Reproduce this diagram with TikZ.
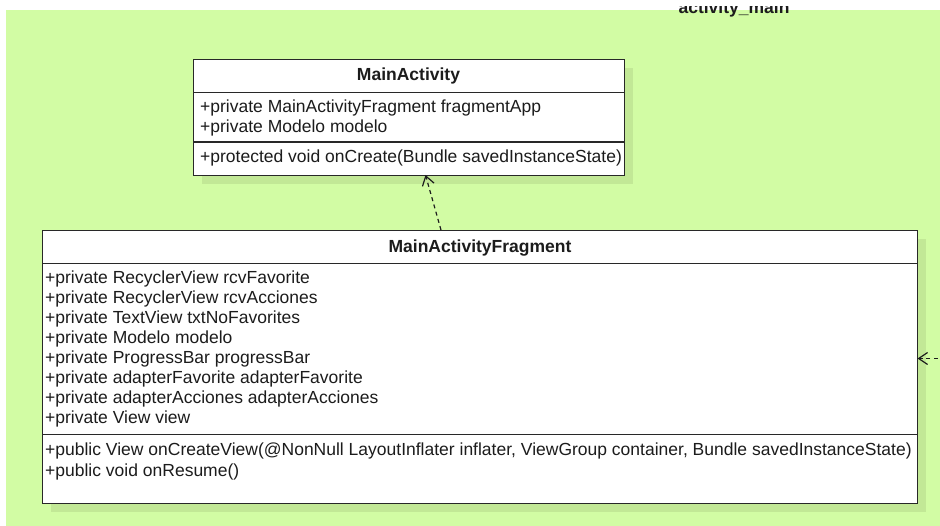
\documentclass[tikz,border=0pt]{standalone}
\usepackage{fontspec}
\setmainfont{Liberation Sans}
\usetikzlibrary{arrows.meta,shadows}

\definecolor{canvasgreen}{RGB}{210,252,164}
\definecolor{shadowgreen}{RGB}{194,232,150}
\definecolor{ink}{RGB}{28,28,28}
\definecolor{edge}{RGB}{40,40,40}

\tikzset{
  classbox/.style={draw=edge, line width=1.4pt, fill=white, inner sep=0pt,
    anchor=north west,
    drop shadow={shadow xshift=8pt, shadow yshift=-8pt, fill=shadowgreen, opacity=1}},
  divider/.style={draw=edge, line width=1.4pt},
  member/.style={anchor=base west, inner sep=0pt, text=ink,
    font=\fontsize{17.5}{20}\selectfont},
  classname/.style={anchor=base, inner sep=0pt, text=ink,
    font=\fontsize{17.5}{20}\selectfont\bfseries},
  dep/.style={draw=ink, line width=1.2pt, dash pattern=on 4pt off 3.5pt,
    -{Straight Barb[length=9pt,width=12pt,line width=1.2pt]}}
}

\begin{document}
\begin{tikzpicture}[x=1pt,y=-1pt]
  \useasboundingbox (0,0) rectangle (940,526);
  % canvas
  \fill[canvasgreen] (6,10) rectangle (940,526);
  \node[classname, anchor=base] (title) at (734,14) {activity\_main};
  % upper edge of the view hides the top of the container label
  \fill[white] (0,0) rectangle (940,5.7);

  % ---- MainActivity ----
  \node[classbox, minimum width=431pt, minimum height=116pt] (ma) at (193,59) {};
  \draw[divider] (193,92.5) -- (624,92.5);
  \draw[divider] (193,142) -- (624,142);
  \node[classname] (maname) at (408.5,81) {MainActivity};
  \node[member] (maa1) at (200,113) {+private MainActivityFragment fragmentApp};
  \node[member] (maa2) at (200,133) {+private Modelo modelo};
  \node[member] (mam1) at (200,163) {+protected void onCreate(Bundle savedInstanceState)};

  % ---- MainActivityFragment ----
  \node[classbox, minimum width=875pt, minimum height=273pt] (frag) at (42,230) {};
  \draw[divider] (42,263.5) -- (917,263.5);
  \draw[divider] (42,434.5) -- (917,434.5);
  \node[classname] (fragname) at (480,253) {MainActivityFragment};
  \node[member] (fa1) at (45,284) {+private RecyclerView rcvFavorite};
  \node[member] (fa2) at (45,304) {+private RecyclerView rcvAcciones};
  \node[member] (fa3) at (45,324) {+private TextView txtNoFavorites};
  \node[member] (fa4) at (45,344) {+private Modelo modelo};
  \node[member] (fa5) at (45,364) {+private ProgressBar progressBar};
  \node[member] (fa6) at (45,384) {+private adapterFavorite adapterFavorite};
  \node[member] (fa7) at (45,404) {+private adapterAcciones adapterAcciones};
  \node[member] (fa8) at (45,424) {+private View view};
  \node[member] (fm1) at (45,456) {+public View onCreateView(@NonNull LayoutInflater inflater, ViewGroup container, Bundle savedInstanceState)};
  \node[member] (fm2) at (45,476) {+public void onResume()};

  % ---- dependencies ----
  \coordinate (fragtop) at (441,230);
  \coordinate (mabottom) at (425.5,175);
  \draw[dep] (fragtop) -- (mabottom);

  \coordinate (offright) at (945,358.5);
  \coordinate (fragright) at (917.5,358.5);
  \draw[dep] (offright) -- (fragright);
\end{tikzpicture}
\end{document}
